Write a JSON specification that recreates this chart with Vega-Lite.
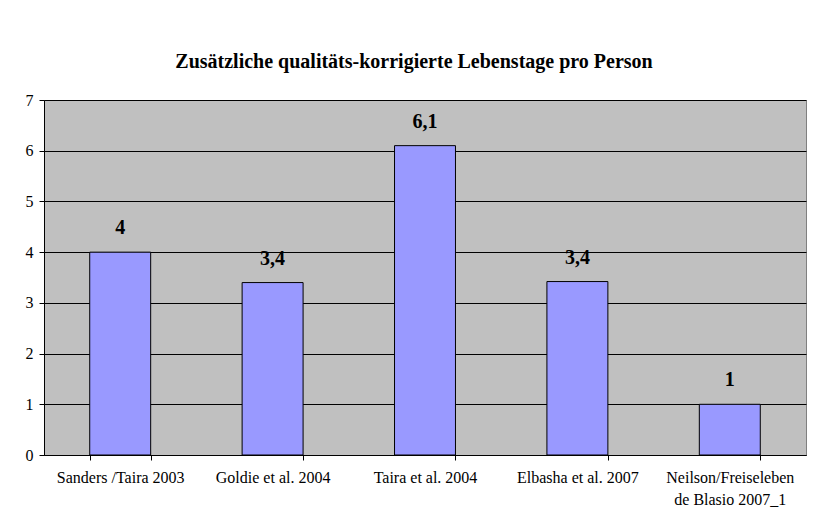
{
  "$schema": "https://vega.github.io/schema/vega-lite/v6.json",
  "width": 762,
  "height": 355,
  "autosize": "none",
  "padding": {"left": 44, "top": 100, "right": 8, "bottom": 72},
  "background": "white",
  "title": {
    "text": "Zusätzliche qualitäts-korrigierte Lebenstage pro Person",
    "font": "Liberation Serif",
    "fontSize": 20,
    "fontWeight": "bold",
    "color": "black",
    "anchor": "middle",
    "dx": -11,
    "offset": 20
  },
  "config": {
    "view": {"fill": "#C0C0C0", "stroke": "#808080", "strokeWidth": 1},
    "axis": {
      "labelFont": "Liberation Serif",
      "labelFontSize": 16,
      "labelColor": "black",
      "domainColor": "black",
      "tickColor": "black",
      "title": null
    }
  },
  "data": {
    "values": [
      {"study": "Sanders /Taira 2003", "value": 4, "label": "4"},
      {"study": "Goldie et al. 2004", "value": 3.4, "label": "3,4"},
      {"study": "Taira et al. 2004", "value": 6.1, "label": "6,1"},
      {"study": "Elbasha et al. 2007", "value": 3.42, "label": "3,4"},
      {"study": "Neilson/Freiseleben de Blasio 2007_1", "value": 1, "label": "1"}
    ]
  },
  "encoding": {
    "x": {
      "field": "study",
      "type": "nominal",
      "sort": null,
      "scale": {"paddingInner": 0.6, "paddingOuter": 0.3},
      "axis": {
        "labelAngle": 0,
        "tickBand": "extent",
        "tickSize": 5,
        "labelPadding": 9,
        "labelLineHeight": 22,
        "labelExpr": "datum.value == 'Neilson/Freiseleben de Blasio 2007_1' ? ['Neilson/Freiseleben', 'de Blasio 2007_1'] : datum.value"
      }
    },
    "y": {
      "field": "value",
      "type": "quantitative",
      "scale": {"domain": [0, 7], "nice": false},
      "axis": {
        "values": [0, 1, 2, 3, 4, 5, 6, 7],
        "tickSize": 5,
        "labelPadding": 6,
        "grid": true,
        "gridColor": "black",
        "gridOpacity": 1,
        "format": "d"
      }
    }
  },
  "layer": [
    {
      "mark": {"type": "bar", "fill": "#9999FF", "stroke": "black", "strokeWidth": 1}
    },
    {
      "mark": {
        "type": "text",
        "font": "Liberation Serif",
        "fontSize": 20,
        "fontWeight": "bold",
        "color": "black",
        "baseline": "bottom",
        "dy": -14
      },
      "encoding": {"text": {"field": "label"}}
    }
  ]
}
